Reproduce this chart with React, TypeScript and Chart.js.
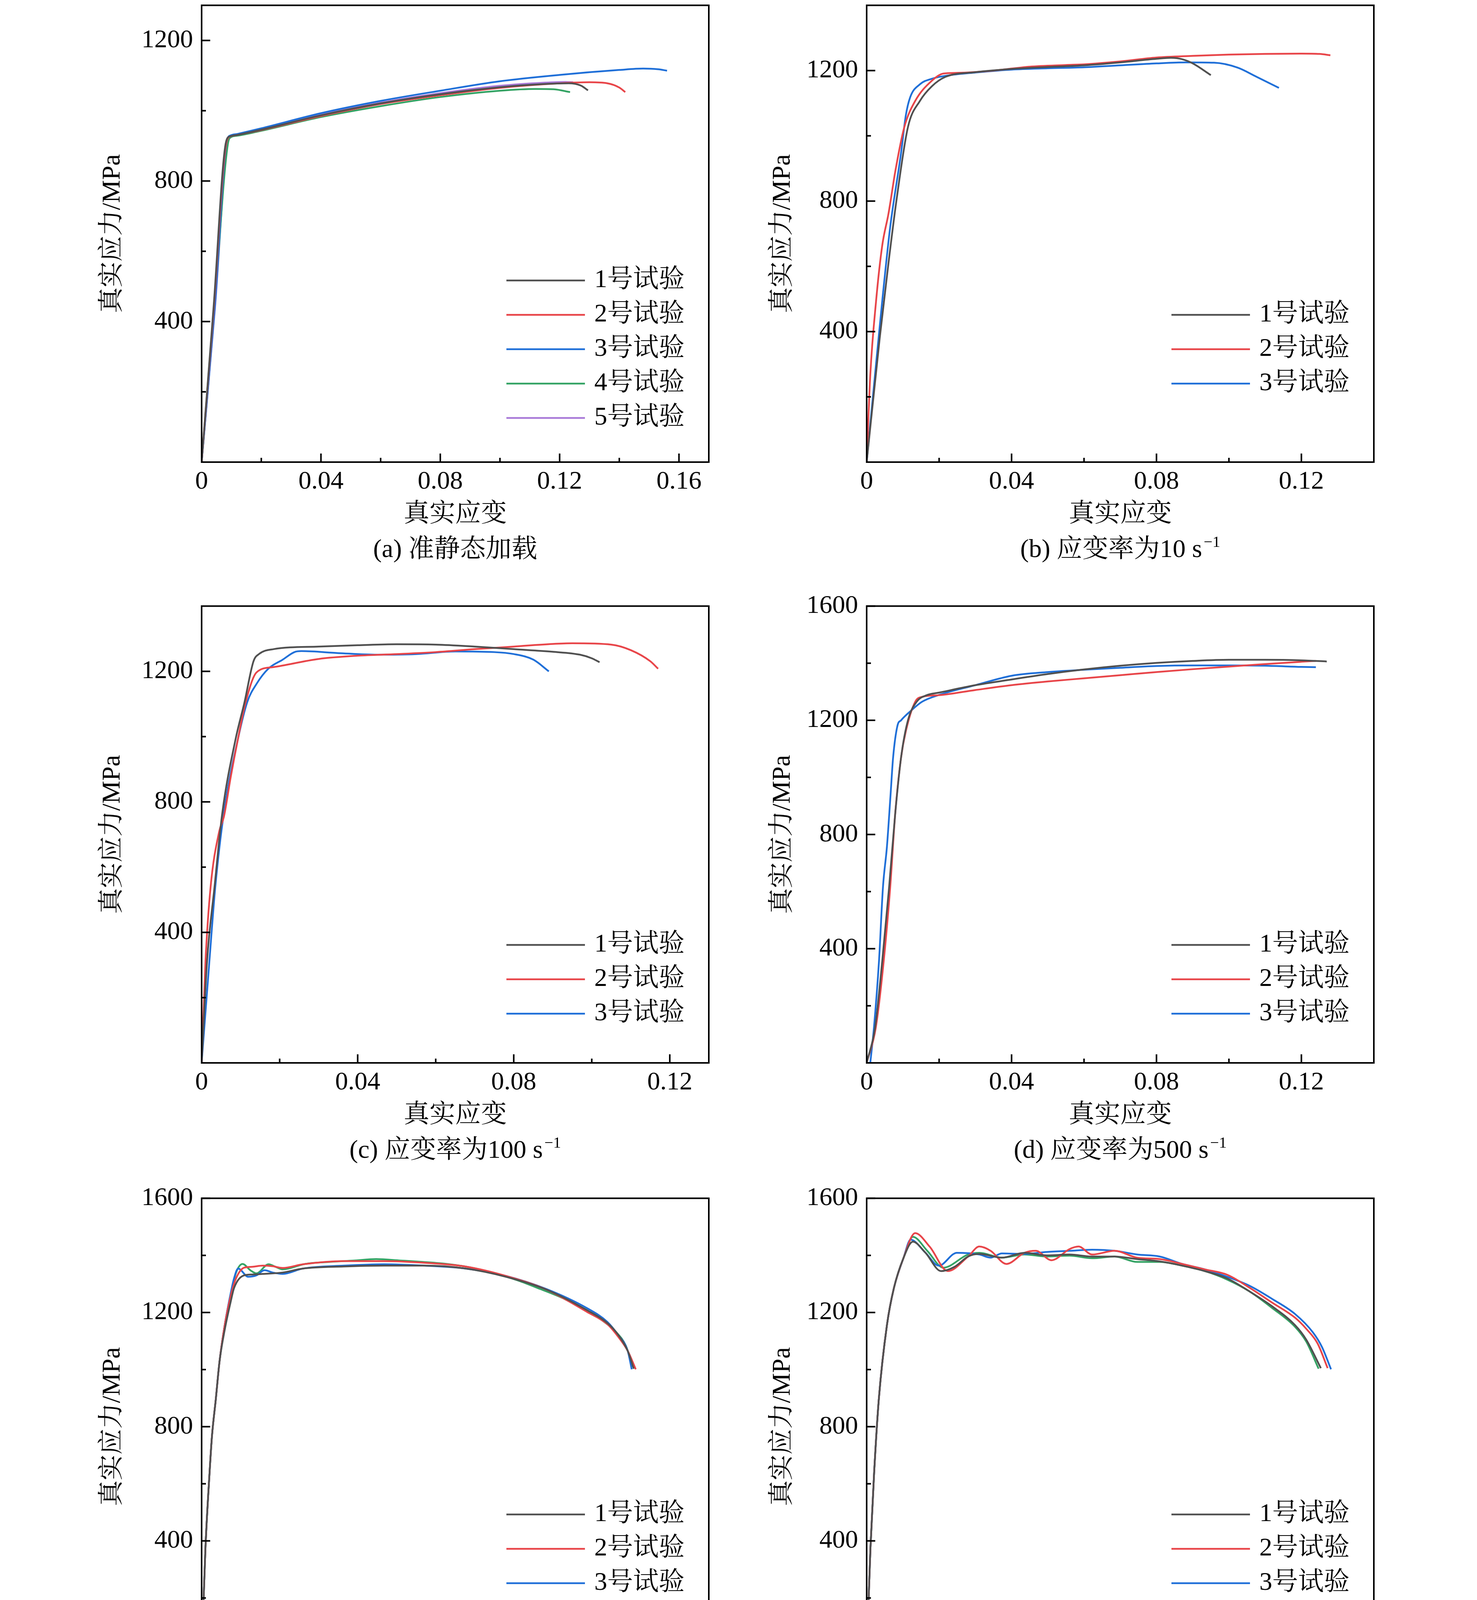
import React, { useEffect, useRef } from 'react';
import Chart from 'chart.js/auto';

const FONT = '"Liberation Serif", "Times New Roman", "Noto Serif CJK SC", "Noto Sans CJK SC", serif';
const SIZE = 66;

const COLORS = ['#505050', '#e84549', '#1f6fd8', '#34a364', '#a97ad8'];
const NAMES = ['1号试验', '2号试验', '3号试验', '4号试验', '5号试验'];

// tick labels
const xTicksA = ['0', '0.04', '0.08', '0.12', '0.16'];
const xTicksBD = ['0', '0.04', '0.08', '0.12'];
const xTicksC = ['0', '0.04', '0.08', '0.12'];
const xTicksE = ['0', '0.06', '0.12', '0.18', '0.24'];
const xTicksF = ['0', '0.05', '0.10', '0.15', '0.20'];
const xTicksG = ['0', '0.1', '0.2', '0.3'];
const xTicksH = ['0', '0.1', '0.2'];
const yTicks12 = ['400', '800', '1200'];
const yTicks16 = ['400', '800', '1200', '1600'];

// (a) quasi-static
const a1 = [[0, 0], [0.004, 440], [0.0082, 912], [0.0095, 927], [0.012, 931], [0.02, 946], [0.04, 987], [0.06, 1021], [0.08, 1047], [0.10, 1067], [0.115, 1076], [0.123, 1078], [0.127, 1072], [0.1295, 1058]];
const a2 = [[0, 0], [0.004, 430], [0.0084, 912], [0.0097, 927], [0.012, 931], [0.02, 945], [0.04, 985], [0.06, 1019], [0.08, 1044], [0.10, 1065], [0.12, 1078], [0.13, 1081], [0.136, 1078], [0.14, 1066], [0.142, 1053]];
const a3 = [[0, 0], [0.0045, 450], [0.0085, 915], [0.0098, 930], [0.012, 934], [0.02, 950], [0.04, 993], [0.06, 1028], [0.08, 1057], [0.10, 1084], [0.12, 1102], [0.14, 1116], [0.148, 1120], [0.153, 1118], [0.156, 1114]];
const a4 = [[0, 0], [0.004, 400], [0.0088, 905], [0.0099, 925], [0.012, 929], [0.02, 943], [0.04, 982], [0.06, 1013], [0.08, 1039], [0.10, 1057], [0.112, 1062], [0.118, 1061], [0.1235, 1053]];
const a5 = [[0, 0], [0.0045, 440], [0.0088, 915], [0.010, 930], [0.012, 933], [0.02, 948], [0.04, 989], [0.06, 1023], [0.08, 1050], [0.10, 1071], [0.115, 1080], [0.122, 1082], [0.1245, 1081]];

// (b) 10 s-1
const b1 = [[0, 0], [0.0036, 380], [0.006, 608], [0.0082, 800], [0.0114, 1027], [0.0147, 1107], [0.018, 1152], [0.0218, 1181], [0.03, 1195], [0.04, 1205], [0.05, 1211], [0.06, 1216], [0.07, 1225], [0.08, 1236], [0.084, 1239], [0.087, 1235], [0.09, 1222], [0.095, 1186]];
const b2 = [[0, 0], [0.001, 267], [0.0026, 494], [0.0043, 664], [0.006, 760], [0.0066, 800], [0.0079, 891], [0.0104, 1027], [0.0134, 1107], [0.018, 1169], [0.0212, 1191], [0.025, 1193], [0.035, 1200], [0.045, 1212], [0.055, 1217], [0.06, 1219], [0.07, 1228], [0.08, 1240], [0.09, 1245], [0.10, 1249], [0.11, 1251], [0.12, 1252], [0.125, 1251], [0.128, 1247]];
const b3 = [[0, 0], [0.0023, 267], [0.0043, 494], [0.0065, 721], [0.0095, 948], [0.0108, 1062], [0.012, 1118], [0.0147, 1158], [0.018, 1175], [0.023, 1186], [0.03, 1194], [0.04, 1203], [0.05, 1207], [0.06, 1210], [0.07, 1216], [0.08, 1222], [0.088, 1225], [0.0959, 1224], [0.1024, 1209], [0.1076, 1181], [0.1138, 1147]];

// (c) 100 s-1
const c1 = [[0, 0], [0.0014, 313], [0.0033, 539], [0.0053, 766], [0.0087, 992], [0.011, 1106], [0.0133, 1231], [0.0147, 1253], [0.0184, 1268], [0.03, 1276], [0.04, 1280], [0.05, 1283], [0.06, 1282], [0.07, 1276], [0.08, 1268], [0.09, 1260], [0.097, 1251], [0.10, 1240], [0.102, 1228]];
const c2 = [[0, 0], [0.001, 313], [0.0023, 539], [0.0045, 709], [0.0057, 754], [0.0075, 879], [0.0093, 992], [0.0113, 1106], [0.0141, 1197], [0.0184, 1213], [0.03, 1238], [0.04, 1248], [0.05, 1253], [0.06, 1259], [0.07, 1268], [0.08, 1276], [0.09, 1284], [0.095, 1286], [0.105, 1282], [0.11, 1265], [0.115, 1231], [0.117, 1208]];
const c3 = [[0, 0], [0.002, 313], [0.0035, 539], [0.0057, 766], [0.0093, 992], [0.0117, 1106], [0.0141, 1162], [0.0171, 1208], [0.0208, 1236], [0.0238, 1259], [0.0256, 1262], [0.035, 1256], [0.045, 1251], [0.055, 1253], [0.065, 1261], [0.075, 1259], [0.08, 1253], [0.085, 1236], [0.089, 1200]];

// (d) 500 s-1
const d1 = [[0, 0], [0.0023, 122], [0.0043, 356], [0.0062, 616], [0.0079, 876], [0.0095, 1070], [0.0114, 1200], [0.0138, 1265], [0.0166, 1288], [0.02, 1297], [0.03, 1323], [0.04, 1343], [0.05, 1362], [0.06, 1378], [0.07, 1391], [0.08, 1401], [0.09, 1408], [0.10, 1412], [0.11, 1412], [0.12, 1410], [0.127, 1406]];
const d2 = [[0, 0], [0.0025, 122], [0.0047, 356], [0.0065, 616], [0.0079, 876], [0.0095, 1070], [0.0108, 1161], [0.0134, 1265], [0.0153, 1282], [0.02, 1288], [0.03, 1306], [0.04, 1323], [0.05, 1336], [0.06, 1347], [0.07, 1358], [0.08, 1369], [0.09, 1379], [0.10, 1388], [0.11, 1397], [0.12, 1405], [0.124, 1408]];
const d3 = [[0.001, 0], [0.002, 122], [0.0034, 356], [0.0045, 616], [0.0056, 758], [0.0066, 940], [0.0073, 1070], [0.0085, 1181], [0.0095, 1200], [0.0121, 1232], [0.0153, 1265], [0.0205, 1291], [0.03, 1323], [0.04, 1356], [0.05, 1369], [0.06, 1377], [0.07, 1384], [0.08, 1390], [0.09, 1392], [0.10, 1392], [0.11, 1391], [0.12, 1387], [0.124, 1386]];

// (e) 1 000 s-1
const riseE = [[0, 0], [0.0019, 378], [0.0039, 637], [0.0051, 767], [0.007, 897], [0.0088, 1027]];
const e1 = [...riseE, [0.0114, 1140], [0.0144, 1240], [0.016, 1286], [0.021, 1330], [0.025, 1333], [0.03, 1335], [0.04, 1340], [0.05, 1354], [0.07, 1361], [0.09, 1364], [0.11, 1364], [0.13, 1354], [0.15, 1325], [0.17, 1280], [0.19, 1208], [0.2, 1163], [0.205, 1125], [0.21, 1066], [0.213, 1003]];
const e2 = [...riseE, [0.0114, 1156], [0.0144, 1260], [0.017, 1320], [0.021, 1357], [0.025, 1360], [0.03, 1364], [0.035, 1362], [0.04, 1356], [0.05, 1369], [0.07, 1380], [0.09, 1380], [0.11, 1374], [0.13, 1361], [0.15, 1328], [0.17, 1280], [0.19, 1202], [0.2, 1159], [0.205, 1118], [0.21, 1066], [0.214, 1001]];
const e3 = [...riseE, [0.0114, 1156], [0.0144, 1270], [0.016, 1320], [0.018, 1354], [0.023, 1325], [0.027, 1330], [0.031, 1348], [0.035, 1340], [0.04, 1335], [0.05, 1354], [0.07, 1364], [0.09, 1369], [0.11, 1364], [0.13, 1354], [0.15, 1328], [0.17, 1282], [0.19, 1215], [0.2, 1167], [0.205, 1124], [0.21, 1066], [0.212, 1001]];
const e4 = [...riseE, [0.0114, 1156], [0.0144, 1265], [0.017, 1340], [0.0202, 1370], [0.024, 1348], [0.027, 1337], [0.033, 1369], [0.037, 1358], [0.040, 1351], [0.051, 1370], [0.063, 1377], [0.075, 1382], [0.086, 1387], [0.098, 1382], [0.109, 1377], [0.121, 1370], [0.133, 1357], [0.144, 1338], [0.156, 1312], [0.167, 1282], [0.179, 1247], [0.191, 1202], [0.1975, 1172], [0.2045, 1130], [0.209, 1085], [0.2126, 1010]];

// (f) 2 000 s-1
const riseF = [[0, 0], [0.0017, 378], [0.0033, 637], [0.0054, 897], [0.009, 1156], [0.0121, 1286], [0.0163, 1390]];
const f1 = [...riseF, [0.0205, 1448], [0.026, 1410], [0.033, 1345], [0.039, 1360], [0.045, 1396], [0.05, 1405], [0.06, 1392], [0.07, 1409], [0.08, 1400], [0.09, 1403], [0.10, 1396], [0.11, 1396], [0.12, 1387], [0.13, 1379], [0.14, 1364], [0.15, 1345], [0.16, 1319], [0.17, 1273], [0.18, 1221], [0.19, 1156], [0.195, 1105], [0.2015, 1005]];
const f2 = [...riseF, [0.0215, 1478], [0.028, 1430], [0.036, 1345], [0.045, 1396], [0.05, 1431], [0.055, 1416], [0.062, 1370], [0.07, 1409], [0.075, 1416], [0.082, 1383], [0.09, 1422], [0.094, 1431], [0.10, 1403], [0.11, 1416], [0.12, 1392], [0.13, 1387], [0.14, 1370], [0.15, 1351], [0.16, 1332], [0.17, 1286], [0.18, 1234], [0.19, 1182], [0.195, 1143], [0.2, 1092], [0.2045, 1005]];
const f3 = [...riseF, [0.0195, 1455], [0.026, 1410], [0.032, 1364], [0.04, 1409], [0.05, 1403], [0.055, 1392], [0.06, 1407], [0.07, 1405], [0.08, 1412], [0.09, 1416], [0.10, 1420], [0.11, 1416], [0.12, 1403], [0.13, 1396], [0.14, 1370], [0.15, 1351], [0.16, 1325], [0.17, 1293], [0.18, 1247], [0.19, 1195], [0.198, 1130], [0.202, 1079], [0.206, 1001]];
const f4 = [...riseF, [0.0205, 1465], [0.027, 1415], [0.034, 1357], [0.045, 1403], [0.05, 1409], [0.06, 1392], [0.07, 1403], [0.08, 1396], [0.09, 1399], [0.10, 1390], [0.11, 1396], [0.12, 1377], [0.13, 1377], [0.14, 1364], [0.15, 1345], [0.16, 1315], [0.17, 1273], [0.18, 1215], [0.19, 1150], [0.195, 1098], [0.2005, 1003]];

// (g) 5 000 s-1
const riseG = [[0, 50], [0.001, 400], [0.003, 677], [0.0055, 955], [0.007, 1094], [0.0104, 1233], [0.0143, 1372], [0.0185, 1441]];
const g1 = [...riseG, [0.025, 1478], [0.0285, 1486], [0.04, 1455], [0.05, 1421], [0.055, 1414], [0.06, 1419], [0.07, 1441], [0.08, 1466], [0.09, 1476], [0.10, 1480], [0.11, 1497], [0.12, 1514], [0.13, 1518], [0.14, 1514], [0.15, 1522], [0.16, 1539], [0.17, 1553], [0.18, 1557], [0.2, 1553], [0.22, 1549], [0.24, 1539], [0.25, 1533], [0.27, 1530], [0.28, 1535], [0.3, 1532], [0.312, 1522]];
const g2 = [...riseG, [0.026, 1473], [0.04, 1430], [0.05, 1389], [0.06, 1400], [0.07, 1434], [0.08, 1459], [0.09, 1451], [0.10, 1462], [0.11, 1483], [0.12, 1494], [0.13, 1494], [0.14, 1486], [0.15, 1500], [0.16, 1511], [0.17, 1519], [0.19, 1518], [0.2, 1522], [0.22, 1515], [0.24, 1515], [0.26, 1515], [0.28, 1507], [0.29, 1504], [0.298, 1493]];
const g3 = [...riseG, [0.026, 1476], [0.04, 1428], [0.05, 1375], [0.06, 1393], [0.07, 1441], [0.08, 1455], [0.09, 1447], [0.10, 1458], [0.11, 1475], [0.12, 1483], [0.13, 1476], [0.14, 1469], [0.15, 1490], [0.16, 1504], [0.18, 1511], [0.2, 1521], [0.22, 1511], [0.24, 1511], [0.26, 1514], [0.27, 1507], [0.281, 1497]];
const g4 = [...riseG, [0.026, 1476], [0.04, 1430], [0.05, 1383], [0.06, 1400], [0.07, 1444], [0.08, 1465], [0.09, 1462], [0.10, 1472], [0.11, 1490], [0.12, 1497], [0.13, 1494], [0.14, 1493], [0.15, 1501], [0.16, 1511], [0.18, 1508], [0.2, 1511], [0.22, 1521], [0.24, 1535], [0.255, 1550], [0.265, 1546], [0.276, 1528]];

// (h) 10 000 s-1
const riseH = [[0, 120], [0.0005, 400], [0.0014, 607], [0.0035, 815], [0.0058, 955], [0.0088, 1094], [0.0123, 1205], [0.0169, 1288], [0.0227, 1344]];
const h1 = [...riseH, [0.03, 1372], [0.04, 1400], [0.05, 1416], [0.06, 1423], [0.07, 1428], [0.08, 1434], [0.10, 1451], [0.12, 1469], [0.14, 1483], [0.16, 1493], [0.17, 1497], [0.18, 1499], [0.19, 1497], [0.2, 1490], [0.212, 1466]];
const h2 = [...riseH, [0.03, 1379], [0.04, 1421], [0.05, 1442], [0.06, 1451], [0.07, 1455], [0.08, 1462], [0.10, 1476], [0.12, 1493], [0.14, 1504], [0.16, 1514], [0.18, 1521], [0.2, 1525], [0.21, 1525], [0.22, 1514], [0.226, 1501]];
const h3 = [...riseH, [0.03, 1390], [0.04, 1428], [0.05, 1449], [0.06, 1466], [0.07, 1486], [0.08, 1501], [0.10, 1518], [0.12, 1529], [0.14, 1542], [0.16, 1556], [0.18, 1566], [0.195, 1574], [0.205, 1571], [0.213, 1562], [0.219, 1553]];
const h4 = [...riseH, [0.03, 1395], [0.0367, 1428], [0.05, 1472], [0.06, 1486], [0.07, 1497], [0.08, 1504], [0.10, 1518], [0.12, 1527], [0.14, 1539], [0.16, 1550], [0.18, 1560], [0.19, 1567], [0.2, 1567], [0.212, 1553]];

// layout (px)
const AREA_W = 1298;
const AREA_H = 1181;
const PAD_L = 30;
const Y_AXIS_W = 300;
const PAD_T = 50;
const PAD_R = 60;
const X_AXIS_H = 180;
const PAD_B = 120;
const CW = PAD_L + Y_AXIS_W + AREA_W + PAD_R;
const CH = PAD_T + AREA_H + X_AXIS_H + PAD_B;
const COL_X = [516, 2218];
const ROW_Y = [2, 1540, 3056, 4562];

const panels = [
  { caption: '(a) 准静态加载', sup: '', series: [a1, a2, a3, a4, a5], xMax: 0.17, yMax: 1300, xTicks: xTicksA, yTicks: yTicks12, col: 0, row: 0, legendBottom: 113 },
  { caption: '(b) 应变率为10 s', sup: '−1', series: [b1, b2, b3], xMax: 0.14, yMax: 1400, xTicks: xTicksBD, yTicks: yTicks12, col: 1, row: 0, legendBottom: 201 },
  { caption: '(c) 应变率为100 s', sup: '−1', series: [c1, c2, c3], xMax: 0.13, yMax: 1400, xTicks: xTicksC, yTicks: yTicks12, col: 0, row: 1, legendBottom: 126 },
  { caption: '(d) 应变率为500 s', sup: '−1', series: [d1, d2, d3], xMax: 0.14, yMax: 1600, xTicks: xTicksBD, yTicks: yTicks16, col: 1, row: 1, legendBottom: 126 },
  { caption: '(e)  应变率为1 000 s', sup: '−1', series: [e1, e2, e3, e4], xMax: 0.25, yMax: 1600, xTicks: xTicksE, yTicks: yTicks16, col: 0, row: 2, legendBottom: 96 },
  { caption: '(f)  应变率为2 000 s', sup: '−1', series: [f1, f2, f3, f4], xMax: 0.225, yMax: 1600, xTicks: xTicksF, yTicks: yTicks16, col: 1, row: 2, legendBottom: 96 },
  { caption: '(g) 应变率为5 000 s', sup: '−1', series: [g1, g2, g3, g4], xMax: 0.35, yMax: 1700, xTicks: xTicksG, yTicks: yTicks16, col: 0, row: 3, legendBottom: 95 },
  { caption: '(h) 应变率为10 000 s', sup: '−1', series: [h1, h2, h3, h4], xMax: 0.25, yMax: 1700, xTicks: xTicksH, yTicks: yTicks16, col: 1, row: 3, legendBottom: 95 },
];

const minorValues = (majors: number[], min: number, max: number) => {
  const step = majors[1] - majors[0];
  let m = majors[0] - step / 2;
  while (m - step > min) m -= step;
  const out: number[] = [];
  for (; m < max - step * 0.01; m += step) if (m > min + step * 0.01) out.push(m);
  return out;
};

// box, inward ticks, legend and caption
const framePlugin = {
  id: 'frame',
  afterDraw(chart: any, _args: any, opts: any) {
    const { ctx, chartArea: ca, scales } = chart;
    const xs = scales.x;
    const ys = scales.y;
    ctx.save();
    ctx.strokeStyle = '#000';
    ctx.lineWidth = 4;
    ctx.lineCap = 'butt';
    ctx.strokeRect(ca.left, ca.top, ca.right - ca.left, ca.bottom - ca.top);
    const xMaj = opts.xTicks.map(parseFloat);
    const yMaj = opts.yTicks.map(parseFloat);
    const tickX = (v: number, len: number) => {
      const px = xs.getPixelForValue(v);
      ctx.beginPath();
      ctx.moveTo(px, ca.bottom);
      ctx.lineTo(px, ca.bottom - len);
      ctx.stroke();
    };
    const tickY = (v: number, len: number) => {
      const py = ys.getPixelForValue(v);
      ctx.beginPath();
      ctx.moveTo(ca.left, py);
      ctx.lineTo(ca.left + len, py);
      ctx.stroke();
    };
    xMaj.forEach((v: number) => tickX(v, 22));
    minorValues(xMaj, xs.min, xs.max).forEach((v) => tickX(v, 11));
    yMaj.forEach((v: number) => tickY(v, 22));
    minorValues(yMaj, ys.min, ys.max).forEach((v) => tickY(v, 11));

    // legend
    const n = chart.data.datasets.length;
    ctx.font = `${SIZE}px ${FONT}`;
    ctx.textBaseline = 'middle';
    ctx.textAlign = 'left';
    chart.data.datasets.forEach((ds: any, i: number) => {
      const yy = ca.bottom - opts.legendBottom - (n - 1 - i) * 88;
      ctx.strokeStyle = ds.borderColor;
      ctx.lineWidth = 4.5;
      ctx.beginPath();
      ctx.moveTo(ca.left + 780, yy);
      ctx.lineTo(ca.left + 981, yy);
      ctx.stroke();
      ctx.fillStyle = '#000';
      ctx.fillText(ds.label, ca.left + 1005, yy);
    });

    // caption
    const cy = ca.bottom + 226;
    ctx.font = `${SIZE}px ${FONT}`;
    const w1 = ctx.measureText(opts.caption).width;
    ctx.font = `${Math.round(SIZE * 0.6)}px ${FONT}`;
    const w2 = opts.sup ? ctx.measureText(opts.sup).width + 4 : 0;
    const x0 = (ca.left + ca.right) / 2 - (w1 + w2) / 2;
    ctx.fillStyle = '#000';
    ctx.font = `${SIZE}px ${FONT}`;
    ctx.fillText(opts.caption, x0, cy);
    if (opts.sup) {
      ctx.font = `${Math.round(SIZE * 0.6)}px ${FONT}`;
      ctx.fillText(opts.sup, x0 + w1 + 4, cy - SIZE * 0.3);
    }
    ctx.restore();
  },
};

const axisFont = { family: FONT, size: SIZE, lineHeight: 1.2 };

const Panel = ({ p }: { p: any }) => {
  const canvasRef = useRef<HTMLCanvasElement>(null);
  const chartRef = useRef<any>(null);

  useEffect(() => {
    if (!canvasRef.current) return;
    const datasets = p.series.map((pts: number[][], i: number) => ({
      label: NAMES[i],
      data: pts.map(([x, y]) => ({ x, y })),
      borderColor: COLORS[i],
      backgroundColor: COLORS[i],
      borderWidth: 4.5,
      pointRadius: 0,
      showLine: true,
      cubicInterpolationMode: 'monotone',
      fill: false,
    }));
    const config: any = {
      type: 'scatter',
      data: { datasets },
      plugins: [framePlugin],
      options: {
        responsive: false,
        animation: false,
        events: [],
        layout: { padding: { left: PAD_L, top: PAD_T, right: PAD_R, bottom: PAD_B } },
        plugins: {
          legend: { display: false },
          tooltip: { enabled: false },
          frame: { xTicks: p.xTicks, yTicks: p.yTicks, legendBottom: p.legendBottom, caption: p.caption, sup: p.sup },
        },
        scales: {
          x: {
            type: 'linear',
            min: 0,
            max: p.xMax,
            afterBuildTicks: (s: any) => { s.ticks = p.xTicks.map((t: string) => ({ value: parseFloat(t) })); },
            afterFit: (s: any) => { s.height = X_AXIS_H; },
            grid: { display: false, drawTicks: false },
            border: { display: false },
            ticks: { callback: (_v: any, i: number) => p.xTicks[i], font: axisFont, color: '#000', padding: 11.4, maxRotation: 0, autoSkip: false },
            title: { display: true, text: '真实应变', font: axisFont, color: '#000', padding: { top: 0, bottom: 5.4 } },
          },
          y: {
            type: 'linear',
            min: 0,
            max: p.yMax,
            afterBuildTicks: (s: any) => { s.ticks = p.yTicks.map((t: string) => ({ value: parseFloat(t) })); },
            afterFit: (s: any) => { s.width = Y_AXIS_W; },
            grid: { display: false, drawTicks: false },
            border: { display: false },
            ticks: { callback: (_v: any, i: number) => p.yTicks[i], font: axisFont, color: '#000', padding: 22, autoSkip: false },
            title: { display: true, text: '真实应力/MPa', font: axisFont, color: '#000', padding: { top: p.col === 0 ? 33 : 46, bottom: 0 } },
          },
        },
      },
    };
    if (chartRef.current) chartRef.current.destroy();
    chartRef.current = new Chart(canvasRef.current, config);
    return () => {
      if (chartRef.current) {
        chartRef.current.destroy();
        chartRef.current = null;
      }
    };
  }, [p]);

  const left = COL_X[p.col] - PAD_L - Y_AXIS_W;
  const top = ROW_Y[p.row] - PAD_T;
  return (
    <div style={{ position: 'absolute', left, top, width: CW, height: CH }}>
      <canvas ref={canvasRef} width={CW} height={CH} style={{ width: CW, height: CH, display: 'block' }} />
    </div>
  );
};

const App = () => (
  <div style={{ position: 'absolute', left: 0, top: 0, width: 3780, height: 6013, background: '#fff', overflow: 'hidden' }}>
    {panels.map((p, i) => <Panel key={i} p={p} />)}
  </div>
);

export default App;
